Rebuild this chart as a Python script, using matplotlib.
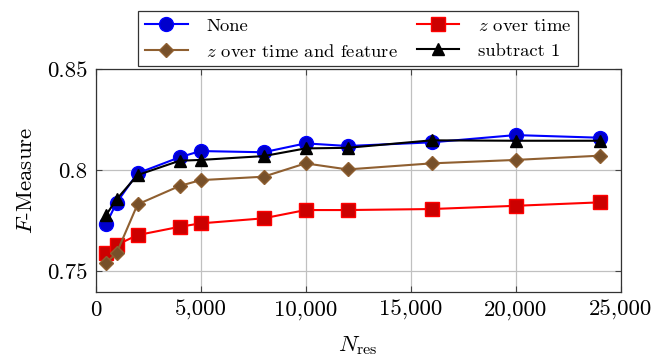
import matplotlib
matplotlib.use("Agg")
import matplotlib.pyplot as plt
from matplotlib.ticker import FuncFormatter

plt.rcParams["font.family"] = "serif"
plt.rcParams["font.serif"] = ["cmr10"]
plt.rcParams["mathtext.fontset"] = "cm"
plt.rcParams["axes.formatter.use_mathtext"] = True
plt.rcParams["font.size"] = 16.5

# data
n_res = [500, 1000, 2000, 4000, 5000, 8000, 10000, 12000, 16000, 20000, 24000]
f_none = [0.7731, 0.7838, 0.7984, 0.8063, 0.8094, 0.8088, 0.8132, 0.8119, 0.8137, 0.8173, 0.8160]
f_z_time = [0.7591, 0.7629, 0.7678, 0.7719, 0.7736, 0.7761, 0.7802, 0.7802, 0.7807, 0.7823, 0.7840]
f_z_time_feat = [0.7541, 0.7588, 0.7830, 0.7921, 0.7950, 0.7967, 0.8033, 0.8003, 0.8033, 0.8050, 0.8071]
f_sub1 = [0.7777, 0.7855, 0.7975, 0.8046, 0.8050, 0.8069, 0.8107, 0.8110, 0.8147, 0.8145, 0.8145]

labels = ["None", "$z$ over time", "$z$ over time and feature", "subtract 1"]
x_ticks = [0, 5000, 10000, 15000, 20000, 25000]
y_ticks = [0.75, 0.8, 0.85]
y_ticklabels = ["0.75", "0.8", "0.85"]

brown = "#8f5f30"

fig = plt.figure(figsize=(6.57, 3.64), dpi=100)
ax = fig.add_axes([0.1454, 0.1987, 0.7991, 0.6117])

l_none, = ax.plot(n_res, f_none, color="blue", marker="o", markersize=10,
                  markerfacecolor=(0, 0, 0.8), markeredgecolor="blue", lw=1.5)
l_zt, = ax.plot(n_res, f_z_time, color="red", marker="s", markersize=10,
                markerfacecolor=(0.8, 0, 0), markeredgecolor="red", lw=1.5)
l_ztf, = ax.plot(n_res, f_z_time_feat, color=brown, marker="D", markersize=7,
                 markerfacecolor="#77502a", markeredgecolor=brown, lw=1.5)
l_sub, = ax.plot(n_res, f_sub1, color="black", marker="^", markersize=9,
                 markerfacecolor="black", markeredgecolor="black", lw=1.5)

ax.set_xlim(0, 25000)
ax.set_ylim(0.7398, 0.85)
ax.set_xticks(x_ticks)
ax.xaxis.set_major_formatter(FuncFormatter(lambda v, p: "{:,}".format(int(v))))
ax.set_yticks(y_ticks)
ax.set_yticklabels(y_ticklabels)
ax.grid(True, color="#c0c0c0", lw=0.9)
ax.set_axisbelow(True)
ax.tick_params(direction="in", length=4, top=True, right=True, pad=6, color="#444444")
for s in ax.spines.values():
    s.set_linewidth(0.9)
    s.set_color("#333333")

ax.set_xlabel(r"$N_{\mathrm{res}}$", labelpad=10)
ax.set_ylabel(r"$F$-Measure", labelpad=8)

leg = fig.legend([l_none, l_ztf, l_zt, l_sub],
                 [labels[0], labels[2], labels[1], labels[3]],
                 loc="upper center", bbox_to_anchor=(0.545, 0.995), ncol=2,
                 fancybox=False, edgecolor="#333333", framealpha=1,
                 fontsize=13.4, handlelength=2.3, handletextpad=1.0,
                 columnspacing=1.0, borderpad=0.35, labelspacing=0.5)
leg.get_frame().set_linewidth(0.9)

fig.savefig("out.png", dpi=100)
